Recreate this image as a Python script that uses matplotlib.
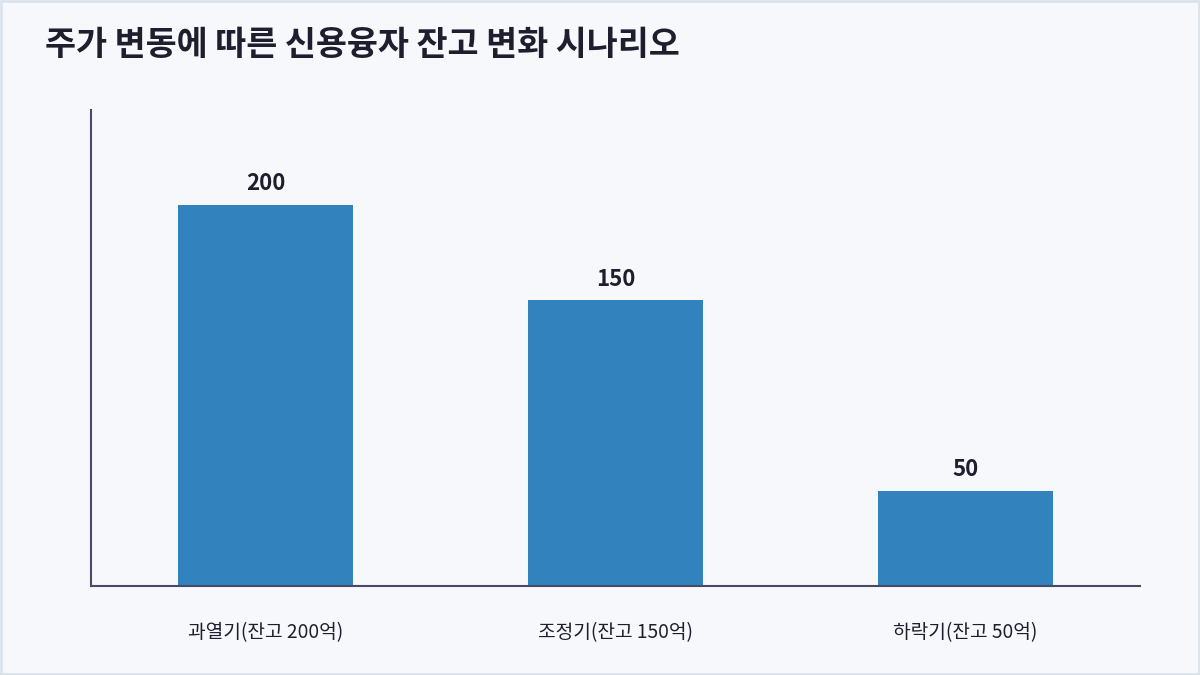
import matplotlib
matplotlib.use("Agg")
import matplotlib.pyplot as plt
from matplotlib.patches import Rectangle

plt.rcParams['font.family'] = ['Noto Sans CJK KR', 'DejaVu Sans']

# 데이터
categories = ['과열기(잔고 200억)', '조정기(잔고 150억)', '하락기(잔고 50억)']
balances = [200, 150, 50]
title = '주가 변동에 따른 신용융자 잔고 변화 시나리오'

bg = '#f7f8fc'
bar_color = '#3182bd'
text_color = '#1e1e2e'
axis_color = '#4a4a68'

fig = plt.figure(figsize=(12, 6.75), dpi=100)
fig.patch.set_facecolor(bg)
ax = fig.add_axes([91/1200, 89/675, (1140-91)/1200, (586-110)/675])
ax.set_facecolor(bg)

x = range(len(categories))
bars = ax.bar(x, balances, width=0.5, color=bar_color, zorder=2)
for xi, v in zip(x, balances):
    ax.annotate(str(v), (xi, v), xytext=(0, 7), textcoords='offset points',
                ha='center', va='bottom', fontsize=16, fontweight='bold',
                color=text_color)

ax.set_xlim(-0.5, 2.5)
ax.set_ylim(0, 250)
ax.set_xticks(list(x))
ax.set_xticklabels(categories, fontsize=13.8, fontweight='medium', color=text_color)
ax.tick_params(axis='x', length=0, pad=26)
ax.set_yticks([])
for s in ['top', 'right']:
    ax.spines[s].set_visible(False)
for s in ['left', 'bottom']:
    ax.spines[s].set_color(axis_color)
    ax.spines[s].set_linewidth(1.5)

fig.text(45/1200, 1 - 45/675, title, fontsize=24.3, fontweight='bold',
         color=text_color, ha='left', va='center')

# 테두리
fig.patches.append(Rectangle((0.001, 0.0015), 0.998, 0.997, transform=fig.transFigure,
                             fill=False, edgecolor='#dde3ec', linewidth=2))

fig.savefig('out.png', dpi=100, facecolor=bg)
